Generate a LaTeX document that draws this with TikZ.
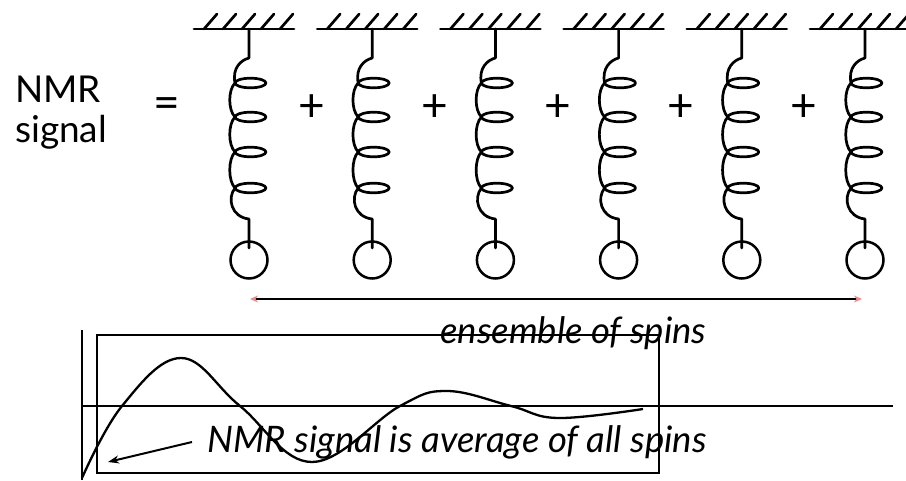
\documentclass[tikz,border=0pt]{standalone}
\usepackage{fontspec}
\setmainfont{Lato}
\usetikzlibrary{arrows.meta}
\definecolor{tippink}{rgb}{0.92,0.55,0.55}
\begin{document}
\begin{tikzpicture}[x=1pt,y=-1pt,
  ink/.style={line width=2.7pt, line cap=round, line join=round},
  thin ink/.style={line width=2pt},
  bigtext/.style={font=\fontsize{37}{40}\selectfont, inner sep=0pt, anchor=base west},
  optext/.style={font=\fontsize{46}{48}\selectfont, inner sep=0pt},
  labeltext/.style={font=\itshape\fontsize{36.5}{38}\selectfont, inner sep=0pt, anchor=base west},
  mass/.style={draw, circle, minimum size=37pt, inner sep=0pt, line width=2.5pt}]
\useasboundingbox (0,0) rectangle (906,480);

% left-hand side of the equation
\node[bigtext] (nmr) at (15,102) {NMR};
\node[bigtext] (sig) at (15,142) {signal};
\node[optext] (eq) at (167,108) {=};

% six springs, each hanging from a hatched support
\foreach \i in {0,...,5}{
  \pgfmathsetmacro\cx{249+123.2*\i}
  % support
  \draw[ink] (\cx-55,29) -- (\cx+45,29);
  \foreach \k in {0,...,4}
    \draw[ink] (\cx-45+19*\k,29) -- ++(13,-15);
  % coil
  \draw[ink] (\cx,29) -- (\cx,58)
     .. controls (\cx-8,60) and (\cx-17,68) .. (\cx-14,83)
     .. controls (\cx-21,90) and (\cx-21,110) .. (\cx-14,117)
     .. controls (\cx-21,124) and (\cx-21,145) .. (\cx-14,152)
     .. controls (\cx-21,159) and (\cx-21,181) .. (\cx-14,188)
     .. controls (\cx-22,198) and (\cx-18,217) .. (\cx,219)
     -- (\cx,248);
  \foreach \ly in {83,117,152,188}
    \draw[ink] (\cx+1.5,\ly) ellipse [x radius=15.5pt, y radius=4.8pt];
  % mass
  \node[mass] (m\i) at (\cx,260) {};
}

% plus signs between the springs
\foreach \px [count=\j] in {312,435,558,681,804}
  \node[optext] (plus\j) at (\px,108) {+};

% ensemble arrow
\coordinate (ensL) at (250,299);
\coordinate (ensR) at (862,299);
\draw[thin ink, {Stealth[length=8pt,width=7pt,color=tippink]}-{Stealth[length=8pt,width=7pt,color=tippink]}] (ensL) -- (ensR);
\node[labeltext] (ens) at (440,343) {ensemble of spins};

% signal plot
\coordinate (yaxT) at (82,330);
\coordinate (yaxB) at (82,480);
\coordinate (xaxL) at (82,406);
\coordinate (xaxR) at (893,406);
\draw[thin ink] (yaxT) -- (yaxB);
\draw[thin ink] (xaxL) -- (xaxR);
\draw[thin ink] (97,335) rectangle (659,473);
\draw[line width=2.3pt] plot[smooth, tension=0.65] coordinates
  {(82,478) (122,406) (181,358) (240,406) (312,462) (400,406) (447,391) (511,406) (558,418) (643,409)};

\node[labeltext] (avg) at (207,452) {NMR signal is average of all spins};
\coordinate (avgtip) at (108,462);
\draw[thin ink, -{Stealth[length=11pt,width=8pt]}] (192,442) -- (avgtip);
\end{tikzpicture}
\end{document}
